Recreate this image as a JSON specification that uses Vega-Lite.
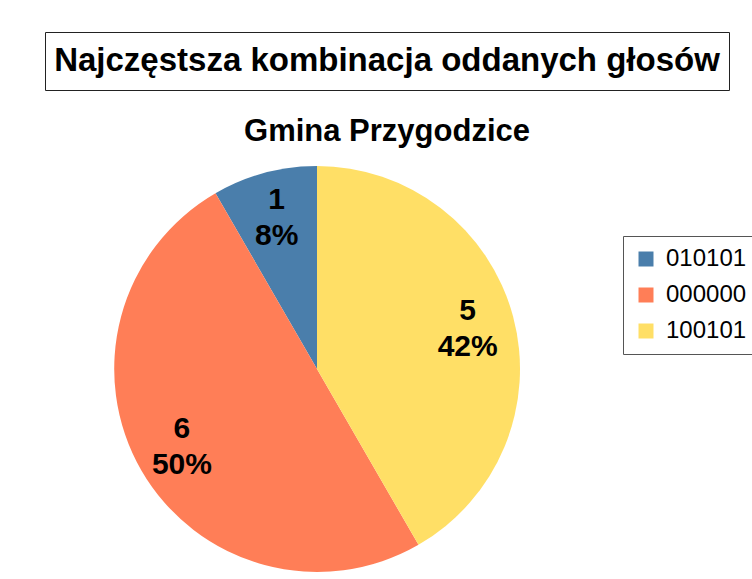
{
  "$schema": "https://vega.github.io/schema/vega-lite/v6.json",
  "background": "white",
  "padding": {"left": 44, "top": 31, "right": 0, "bottom": 0},
  "config": {"font": "Liberation Sans", "view": {"stroke": null}},
  "spacing": 25,
  "vconcat": [
    {
      "width": 684,
      "height": 58,
      "view": {"stroke": "#222222", "strokeWidth": 1},
      "data": {"values": [{"t": "Najczęstsza kombinacja oddanych głosów"}]},
      "mark": {"type": "text", "fontSize": 33, "fontWeight": "bold", "font": "Liberation Sans", "color": "black", "baseline": "middle", "align": "center"},
      "encoding": {"text": {"field": "t", "type": "nominal"}}
    },
    {
      "width": 544,
      "height": 406,
      "title": {"text": "Gmina Przygodzice", "fontSize": 31, "fontWeight": "bold", "font": "Liberation Sans", "color": "black", "anchor": "middle", "frame": "group", "dx": 70, "offset": 18},
      "data": {"values": [
        {"combo": "010101", "count": 1, "idx": 1},
        {"combo": "000000", "count": 6, "idx": 2},
        {"combo": "100101", "count": 5, "idx": 3}
      ]},
      "transform": [
        {"joinaggregate": [{"op": "sum", "field": "count", "as": "total"}]},
        {"calculate": "datum.count + '\\n' + format(datum.count / datum.total, '.0%')", "as": "label"}
      ],
      "encoding": {
        "theta": {"field": "count", "type": "quantitative", "stack": true},
        "order": {"field": "idx", "type": "quantitative", "sort": "descending"}
      },
      "layer": [
        {
          "mark": {"type": "arc"},
          "encoding": {
            "color": {
              "field": "combo",
              "type": "nominal",
              "scale": {"domain": ["010101", "000000", "100101"], "range": ["#4a7eab", "#ff7e57", "#ffdf66"]},
              "legend": {
                "title": null,
                "orient": "none",
                "legendX": 578,
                "legendY": 204,
                "symbolType": "square",
                "symbolSize": 225,
                "symbolStrokeWidth": 0,
                "labelFontSize": 24,
                "labelFont": "Liberation Sans",
                "labelColor": "black",
                "labelOffset": 8,
                "strokeColor": "#555555",
                "padding": 11,
                "rowPadding": 12
              }
            }
          }
        },
        {
          "mark": {"type": "text", "radius": 156, "dy": -18, "fontSize": 30, "fontWeight": "bold", "font": "Liberation Sans", "lineBreak": "\n", "lineHeight": 36, "color": "black", "align": "center", "baseline": "middle"},
          "encoding": {
            "detail": {"field": "combo", "type": "nominal"},
            "text": {"field": "label", "type": "nominal"}
          }
        }
      ]
    }
  ]
}
